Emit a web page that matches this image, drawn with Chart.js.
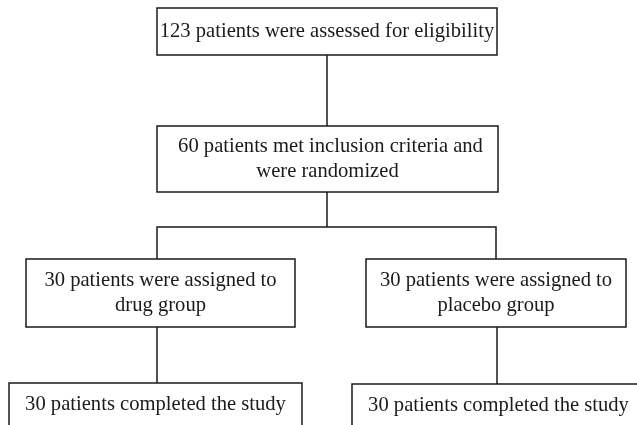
<!DOCTYPE html>
<html>
<head>
<meta charset="utf-8">
<script src="https://cdn.jsdelivr.net/npm/chart.js@4.4.1/dist/chart.umd.min.js"></script>
<style>
  html, body { margin: 0; padding: 0; background: #fff; }
  #wrap { width: 637px; height: 425px; position: relative; }
</style>
</head>
<body>
<div id="wrap"><canvas id="flow"></canvas></div>
<script>
// flow chart text, one entry per box (lines split on \n)
const boxTexts = [
    '123 patients were assessed for eligibility',
    '60 patients met inclusion criteria and\nwere randomized',
    '30 patients were assigned to\ndrug group',
    '30 patients were assigned to\nplacebo group',
    '30 patients completed the study',
    '30 patients completed the study'
];

// box frames in chart units: [left, top, right, bottom]
const boxFrames = [
    [157, 8, 497, 55],
    [157, 126, 498, 192],
    [26, 259, 295, 327],
    [366, 259, 626, 327],
    [9, 383, 302, 430],
    [352, 384, 645, 430]
];

// connector polylines in chart units
const connectors = [
    [[327, 55], [327, 126]],
    [[327, 192], [327, 227]],
    [[157, 259], [157, 227], [496, 227], [496, 259]],
    [[157, 327], [157, 383]],
    [[497, 327], [497, 384]]
];

const LINE_COLOR = '#1a1a1a';
const FONT = '20.6px "Liberation Serif", "DejaVu Serif", serif';

const boxPlugin = {
    id: 'flowBoxes',
    afterDatasetsDraw(chart) {
        const ctx = chart.ctx;
        const xs = chart.scales.x, ys = chart.scales.y;
        ctx.save();
        boxFrames.forEach((f, i) => {
            const x0 = xs.getPixelForValue(f[0]), y0 = ys.getPixelForValue(f[1]);
            const x1 = xs.getPixelForValue(f[2]), y1 = ys.getPixelForValue(f[3]);
            ctx.fillStyle = '#fff';
            ctx.fillRect(x0, y0, x1 - x0, y1 - y0);
            ctx.strokeStyle = LINE_COLOR;
            ctx.lineWidth = 1.5;
            ctx.strokeRect(x0, y0, x1 - x0, y1 - y0);

            const lines = boxTexts[i].split('\n');
            const lh = 24.5;
            let cy;
            if (i >= 4) {
                // bottom boxes run off the page, text sits near their top
                cy = ys.getPixelForValue(f[1] + 22);
            } else {
                cy = (y0 + y1) / 2 - (lines.length - 1) * lh / 2;
            }
            ctx.font = FONT;
            ctx.fillStyle = '#1a1a1a';
            ctx.textAlign = 'center';
            ctx.textBaseline = 'middle';
            lines.forEach((t, k) => {
                ctx.fillText(t, (x0 + x1) / 2 + (i === 1 && k === 0 ? 3 : 0), cy + k * lh);
            });
        });
        ctx.restore();
    }
};

const datasets = connectors.map(c => ({
    data: c.map(p => ({ x: p[0], y: p[1] })),
    showLine: true,
    borderColor: LINE_COLOR,
    borderWidth: 1.5,
    pointRadius: 0,
    fill: false,
    tension: 0
}));

new Chart(document.getElementById('flow').getContext('2d'), {
    type: 'scatter',
    data: { datasets },
    options: {
        responsive: true,
        maintainAspectRatio: false,
        animation: false,
        layout: { padding: 0 },
        plugins: {
            legend: { display: false },
            tooltip: { enabled: false }
        },
        scales: {
            x: { type: 'linear', min: 0, max: 637, display: false },
            y: { type: 'linear', min: 0, max: 425, reverse: true, display: false }
        }
    },
    plugins: [boxPlugin]
});
</script>
</body>
</html>
